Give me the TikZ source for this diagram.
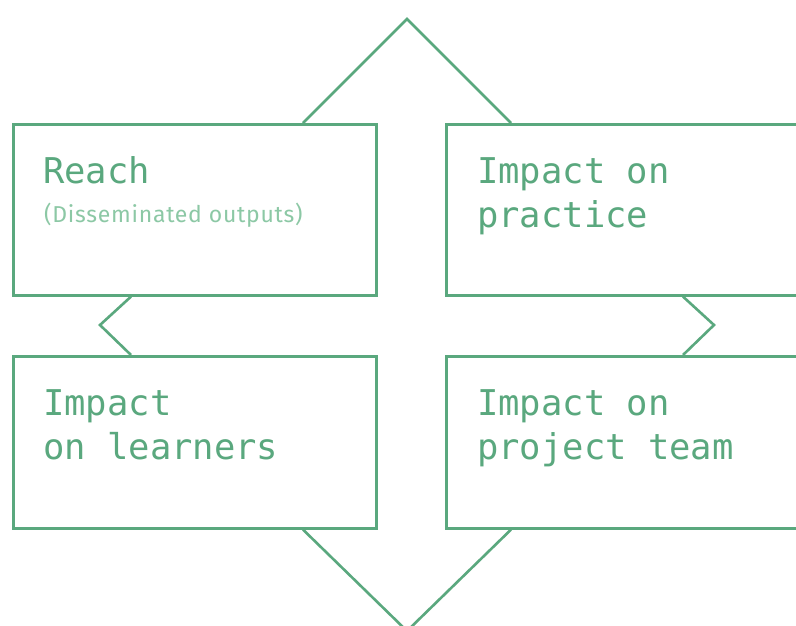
\documentclass[tikz,border=0pt]{standalone}
\usepackage{fontspec}
\usetikzlibrary{calc}
\newfontfamily\monofont{DejaVu Sans Mono}
\newfontfamily\subfont[LetterSpace=3.2]{Fira Sans}
\definecolor{gr}{RGB}{90,168,126}
\definecolor{lgr}{RGB}{140,200,165}
\begin{document}
\begin{tikzpicture}[x=1pt,y=-1pt,
  box/.style={draw=gr,line width=2.6pt,minimum height=171pt,inner sep=0pt,anchor=north west},
  conn/.style={draw=gr,line width=2.6pt,line join=miter},
  lbl/.style={text=gr,font=\monofont\fontsize{35.5}{44}\selectfont,align=left,anchor=base west,inner sep=0pt},
  sub/.style={text=lgr,font=\subfont\fontsize{23}{28}\selectfont,anchor=base west,inner sep=0pt}]
\useasboundingbox (0,0) rectangle (796,625);
\clip (0,0) rectangle (796,625);
\fill[white] (0,0) rectangle (796,625);
% boxes
\node[box,minimum width=363pt] (reach) at (12,123) {};
\node[box,minimum width=420pt] (practice) at (445,123) {};
\node[box,minimum width=363pt,minimum height=172pt] (learners) at (12,355) {};
\node[box,minimum width=420pt,minimum height=172pt] (team) at (445,355) {};
% apexes
\coordinate (topapex) at (407,19);
\coordinate (botapex) at (407,631);
\coordinate (leftapex) at (100,325);
\coordinate (rightapex) at (714,325);
% chevrons
\draw[conn] ($(reach.north west)+(291,0)$) -- (topapex) -- ($(practice.north west)+(66,0)$);
\draw[conn] ($(learners.south west)+(291,0)$) -- (botapex) -- ($(team.south west)+(66,0)$);
\draw[conn] ($(reach.south west)+(119,0)$) -- (leftapex) -- ($(learners.north west)+(119,0)$);
\draw[conn] ($(practice.south west)+(238,0)$) -- (rightapex) -- ($(team.north west)+(238,0)$);
% labels
\node[lbl] (treach) at (43,183) {Reach};
\node[sub] (tsub) at (44,222) {(Disseminated outputs)};
\node[lbl] (tpractice) at (477,227) {Impact on\\practice};
\node[lbl] (tlearners) at (43,459) {Impact\\on learners};
\node[lbl] (tteam) at (477,459) {Impact on\\project team};
\end{tikzpicture}
\end{document}
